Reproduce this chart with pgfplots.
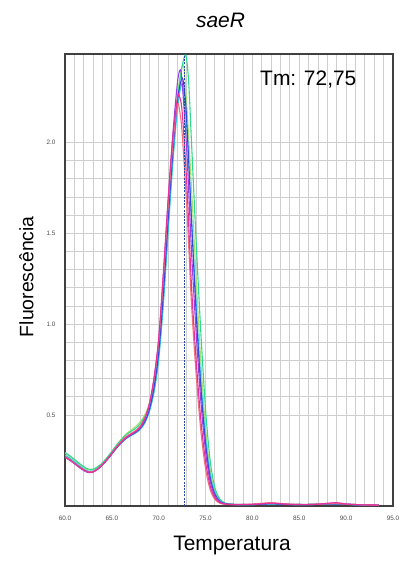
\documentclass[border=0pt]{standalone}
\usepackage{fontspec}
\setmainfont{Liberation Sans}
\usepackage{pgfplots}
\pgfplotsset{compat=1.18}

\definecolor{cmag}{HTML}{E8309A}
\definecolor{cred}{HTML}{F07080}
\definecolor{cpur}{HTML}{9A40E0}
\definecolor{cblu}{HTML}{3048E0}
\definecolor{ccya}{HTML}{30C8E0}
\definecolor{cgre}{HTML}{30D890}
\definecolor{clgr}{HTML}{A8E070}
\definecolor{gridc}{HTML}{CFCFCF}
\definecolor{tmline}{HTML}{2848A0}

\begin{document}
\begin{tikzpicture}[x=1bp,y=1bp]
\begin{axis}[
    at={(0,0)}, anchor=south west,
    scale only axis,
    width=328bp, height=452bp,
    xmin=60, xmax=95,
    ymin=0, ymax=2.487,
    xtick={60,65,...,95},
    ytick={0.5,1.0,1.5,2.0},
    minor x tick num=4,
    minor y tick num=4,
    grid=both,
    major grid style={gridc, line width=0.9bp},
    minor grid style={gridc, line width=0.9bp},
    tick style={draw=none},
    axis line style={black!75, line width=1.2bp},
    /pgf/number format/assume math mode=true,
    /pgf/number format/fixed,
    /pgf/number format/zerofill,
    /pgf/number format/precision=1,
    tick label style={font=\fontsize{6.4}{7}\selectfont, text=black!70},
    xticklabel style={anchor=base, yshift=-15bp},
    yticklabel style={xshift=-6bp},
    every axis plot/.append style={line width=1.1bp, smooth, tension=0.5, mark=none},
]
% light green
\addplot[clgr] coordinates {(60.0,0.290)(60.5,0.272)(61.0,0.252)(61.5,0.231)(62.0,0.211)(62.5,0.199)(63.0,0.200)(63.5,0.214)(64.0,0.237)(64.5,0.266)(65.0,0.300)(65.5,0.335)(66.0,0.367)(66.5,0.395)(67.0,0.416)(67.5,0.436)(68.0,0.462)(68.5,0.500)(69.0,0.565)(69.5,0.680)(70.0,0.870)(70.5,1.190)(71.0,1.580)(71.5,1.960)(72.0,2.260)(72.6,2.430)(73.0,2.200)(73.5,1.750)(74.0,1.250)(74.5,0.790)(75.0,0.430)(75.5,0.195)(76.0,0.082)(76.5,0.034)(77.0,0.016)(78.0,0.009)(79.0,0.008)(80.0,0.009)(81.0,0.011)(82.0,0.012)(83.0,0.011)(84.0,0.009)(85.0,0.008)(86.0,0.009)(87.0,0.011)(88.0,0.012)(89.0,0.011)(90.0,0.009)(91.0,0.008)(92.0,0.007)(93.5,0.005)};
% green
\addplot[cgre] coordinates {(60.0,0.295)(60.5,0.277)(61.0,0.257)(61.5,0.236)(62.0,0.216)(62.5,0.203)(63.0,0.203)(63.5,0.216)(64.0,0.238)(64.5,0.267)(65.0,0.300)(65.5,0.334)(66.0,0.365)(66.5,0.391)(67.0,0.409)(67.5,0.426)(68.0,0.450)(68.5,0.490)(69.0,0.550)(69.5,0.655)(70.0,0.840)(70.5,1.150)(71.0,1.540)(71.5,1.920)(72.0,2.230)(72.5,2.420)(72.9,2.480)(73.2,2.330)(73.5,2.000)(74.0,1.450)(74.5,0.950)(75.0,0.530)(75.5,0.245)(76.0,0.100)(76.5,0.040)(77.0,0.018)(77.5,0.011)(78.0,0.009)(79.0,0.008)(80.0,0.008)(81.0,0.010)(82.0,0.012)(83.0,0.011)(84.0,0.009)(85.0,0.008)(86.0,0.008)(87.0,0.009)(88.0,0.011)(89.0,0.012)(90.0,0.010)(91.0,0.008)(92.0,0.006)(93.5,0.005)};
% cyan
\addplot[ccya] coordinates {(60.0,0.280)(60.5,0.263)(61.0,0.244)(61.5,0.223)(62.0,0.204)(62.5,0.192)(63.0,0.193)(63.5,0.207)(64.0,0.229)(64.5,0.256)(65.0,0.287)(65.5,0.319)(66.0,0.347)(66.5,0.370)(67.0,0.386)(67.5,0.400)(68.0,0.420)(68.5,0.455)(69.0,0.518)(69.5,0.625)(70.0,0.805)(70.5,1.110)(71.0,1.500)(71.5,1.880)(72.0,2.180)(72.5,2.320)(73.0,2.080)(73.5,1.590)(74.0,1.110)(74.5,0.690)(75.0,0.375)(75.5,0.170)(76.0,0.072)(76.5,0.030)(77.0,0.015)(78.0,0.009)(79.0,0.008)(80.0,0.008)(81.0,0.010)(82.0,0.011)(83.0,0.010)(84.0,0.008)(85.0,0.008)(86.0,0.008)(87.0,0.009)(88.0,0.010)(89.0,0.010)(90.0,0.009)(91.0,0.007)(92.0,0.006)(93.5,0.005)};
% blue
\addplot[cblu] coordinates {(60.0,0.270)(60.5,0.254)(61.0,0.235)(61.5,0.215)(62.0,0.197)(62.5,0.186)(63.0,0.188)(63.5,0.203)(64.0,0.226)(64.5,0.254)(65.0,0.286)(65.5,0.319)(66.0,0.348)(66.5,0.372)(67.0,0.389)(67.5,0.404)(68.0,0.425)(68.5,0.462)(69.0,0.530)(69.5,0.650)(70.0,0.845)(70.5,1.170)(71.0,1.570)(71.5,1.940)(72.0,2.230)(72.5,2.355)(72.8,2.260)(73.0,2.110)(73.5,1.570)(74.0,1.060)(74.5,0.650)(75.0,0.345)(75.5,0.152)(76.0,0.064)(76.5,0.027)(77.0,0.014)(78.0,0.008)(79.0,0.008)(80.0,0.008)(81.0,0.010)(82.0,0.012)(83.0,0.010)(84.0,0.008)(85.0,0.008)(86.0,0.008)(87.0,0.009)(88.0,0.011)(89.0,0.011)(90.0,0.009)(91.0,0.007)(92.0,0.006)(93.5,0.005)};
% purple
\addplot[cpur] coordinates {(60.0,0.268)(60.5,0.252)(61.0,0.233)(61.5,0.213)(62.0,0.195)(62.5,0.184)(63.0,0.187)(63.5,0.203)(64.0,0.227)(64.5,0.256)(65.0,0.289)(65.5,0.322)(66.0,0.351)(66.5,0.375)(67.0,0.392)(67.5,0.408)(68.0,0.431)(68.5,0.476)(69.0,0.555)(69.5,0.695)(70.0,0.910)(70.5,1.265)(71.0,1.670)(71.5,2.040)(72.0,2.330)(72.3,2.400)(72.5,2.330)(73.0,1.950)(73.5,1.400)(74.0,0.950)(74.5,0.575)(75.0,0.300)(75.5,0.132)(76.0,0.055)(76.5,0.024)(77.0,0.012)(78.0,0.008)(79.0,0.008)(80.0,0.009)(81.0,0.012)(82.0,0.015)(83.0,0.012)(84.0,0.009)(85.0,0.008)(86.0,0.008)(87.0,0.010)(88.0,0.014)(89.0,0.016)(90.0,0.011)(91.0,0.008)(92.0,0.006)(93.5,0.005)};
% salmon red
\addplot[cred] coordinates {(60.0,0.270)(60.5,0.253)(61.0,0.235)(61.5,0.216)(62.0,0.199)(62.5,0.188)(63.0,0.190)(63.5,0.206)(64.0,0.230)(64.5,0.259)(65.0,0.292)(65.5,0.326)(66.0,0.356)(66.5,0.381)(67.0,0.398)(67.5,0.414)(68.0,0.438)(68.5,0.483)(69.0,0.562)(69.5,0.700)(70.0,0.910)(70.5,1.260)(71.0,1.650)(71.5,1.985)(72.0,2.210)(72.3,2.150)(72.5,2.050)(73.0,1.640)(73.5,1.110)(74.0,0.720)(74.5,0.410)(75.0,0.205)(75.5,0.088)(76.0,0.036)(76.5,0.016)(77.0,0.010)(78.0,0.008)(79.0,0.009)(80.0,0.010)(81.0,0.015)(82.0,0.018)(83.0,0.014)(84.0,0.010)(85.0,0.009)(86.0,0.009)(87.0,0.010)(88.0,0.012)(89.0,0.013)(90.0,0.010)(91.0,0.008)(92.0,0.006)(93.5,0.005)};
% magenta
\addplot[cmag] coordinates {(60.0,0.272)(60.5,0.255)(61.0,0.236)(61.5,0.216)(62.0,0.198)(62.5,0.186)(63.0,0.188)(63.5,0.204)(64.0,0.228)(64.5,0.257)(65.0,0.290)(65.5,0.323)(66.0,0.352)(66.5,0.376)(67.0,0.393)(67.5,0.409)(68.0,0.432)(68.5,0.478)(69.0,0.560)(69.5,0.705)(70.0,0.925)(70.5,1.285)(71.0,1.685)(71.5,2.025)(72.0,2.245)(72.2,2.255)(72.5,2.170)(73.0,1.770)(73.5,1.210)(74.0,0.800)(74.5,0.470)(75.0,0.245)(75.5,0.108)(76.0,0.045)(76.5,0.020)(77.0,0.011)(78.0,0.008)(79.0,0.008)(80.0,0.009)(81.0,0.012)(82.0,0.016)(83.0,0.013)(84.0,0.009)(85.0,0.008)(86.0,0.008)(87.0,0.010)(88.0,0.015)(89.0,0.018)(90.0,0.011)(91.0,0.008)(92.0,0.006)(93.5,0.005)};
% Tm marker line
\addplot[tmline, line width=0.7bp, dash pattern=on 2bp off 1.2bp, sharp plot] coordinates {(72.75,0) (72.75,2.487)};
\end{axis}
\node[anchor=base west, font=\fontsize{21}{24}\selectfont] at (191.7,420.3) {Tm: 72,75};
\node[anchor=base, font=\fontsize{21}{24}\selectfont\itshape] at (155.5,478.7) {saeR};
\node[anchor=base, font=\fontsize{21}{24}\selectfont] at (167,-44.7) {Temperatura};
\node[anchor=base, rotate=90, font=\fontsize{19.5}{22}\selectfont] at (-31.7,229.3) {Fluorescência};
\pgfresetboundingbox
\path[use as bounding box] (-65,-56) rectangle (341,506);
\end{tikzpicture}
\end{document}
